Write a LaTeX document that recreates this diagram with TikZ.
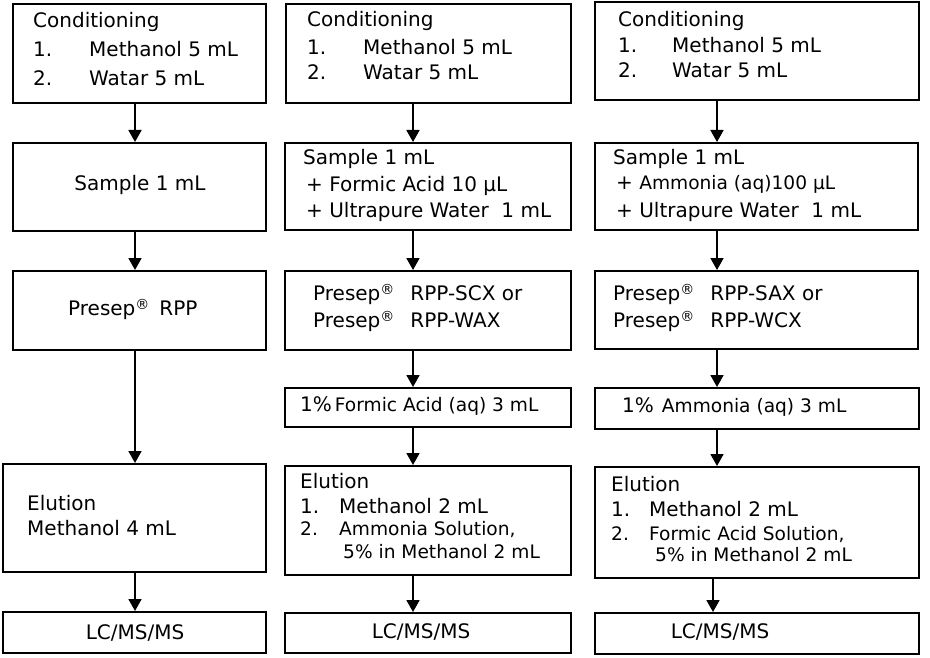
\documentclass[tikz,border=0pt]{standalone}
\usepackage{fontspec}
\setmainfont{DejaVu Sans}
\usetikzlibrary{arrows.meta}
\newcommand\smf{\fontsize{18.6}{22}\selectfont}
\newcommand\sreg{\raisebox{5.5pt}{\fontsize{14}{14}\selectfont ®}}
\tikzset{
  box/.style={draw=black, line width=1.8pt, anchor=north west, inner sep=0pt, fill=white},
  txt/.style={anchor=base west, inner sep=0pt, font=\fontsize{20}{27}\selectfont},
  ctxt/.style={anchor=base, inner sep=0pt, font=\fontsize{20}{27}\selectfont},
  arr/.style={line width=1.8pt, -{Triangle[width=13pt,length=12pt]}}
}
\begin{document}
\begin{tikzpicture}[x=1pt,y=-1pt]
\useasboundingbox (0,0) rectangle (930,658);
% ---------- column 1 ----------
\node[box, minimum width=253pt, minimum height=99pt] (b11) at (12,3) {};
\node[box, minimum width=253pt, minimum height=88pt] (b12) at (12,142) {};
\node[box, minimum width=253pt, minimum height=79pt] (b13) at (12,270) {};
\node[box, minimum width=263pt, minimum height=108pt] (b14) at (2,463) {};
\node[box, minimum width=263pt, minimum height=41pt] (b15) at (2,611) {};
\node[txt] (t11a) at (33,28) {Conditioning};
\node[txt] (t11b) at (33,57) {1.};
\node[txt] (t11c) at (89,57) {Methanol 5 mL};
\node[txt] (t11d) at (33,86) {2.};
\node[txt] (t11e) at (89,86) {Watar 5 mL};
\node[ctxt] (t12) at (140,191) {Sample 1 mL};
\node[txt] (t13) at (68,315) {Presep\sreg\hspace{10pt}RPP};
\node[txt] (t14a) at (27,510) {Elution};
\node[txt] (t14b) at (27,535) {Methanol 4 mL};
\node[ctxt] (t15) at (135,639) {LC/MS/MS};
% ---------- column 2 ----------
\node[box, minimum width=285pt, minimum height=99pt] (b21) at (285,3) {};
\node[box, minimum width=286pt, minimum height=87pt] (b22) at (284,142) {};
\node[box, minimum width=286pt, minimum height=79pt] (b23) at (284,270) {};
\node[box, minimum width=286pt, minimum height=39pt] (b24) at (284,387) {};
\node[box, minimum width=286pt, minimum height=109pt] (b25) at (284,465) {};
\node[box, minimum width=286pt, minimum height=40pt] (b26) at (284,612) {};
\node[txt] (t21a) at (307,27) {Conditioning};
\node[txt] (t21b) at (307,55) {1.};
\node[txt] (t21c) at (363,55) {Methanol 5 mL};
\node[txt] (t21d) at (307,80) {2.};
\node[txt] (t21e) at (363,80) {Watar 5 mL};
\node[txt] (t22a) at (303,165) {Sample 1 mL};
\node[txt] (t22b) at (306,192) {+ Formic Acid 10 µL};
\node[txt] (t22c) at (306,218) {+ Ultrapure Water\ \ 1 mL};
\node[txt] (t23a) at (313,300) {Presep\sreg\hspace{16pt}RPP-SCX or};
\node[txt] (t23b) at (313,327) {Presep\sreg\hspace{16pt}RPP-WAX};
\node[txt] (t24) at (300,411) {1\%\hspace{3pt}{\smf Formic Acid (aq) 3 mL}};
\node[txt] (t25a) at (300,488) {Elution};
\node[txt] (t25b) at (300,513) {1.};
\node[txt] (t25c) at (339,513) {Methanol 2 mL};
\node[txt] (t25d) at (300,535) {\smf 2.};
\node[txt] (t25e) at (339,535) {\smf Ammonia Solution,};
\node[txt] (t25f) at (343,558) {\smf 5\% in Methanol 2 mL};
\node[ctxt] (t26) at (421,638) {LC/MS/MS};
% ---------- column 3 ----------
\node[box, minimum width=324pt, minimum height=98pt] (b31) at (594,1) {};
\node[box, minimum width=323pt, minimum height=87pt] (b32) at (594,142) {};
\node[box, minimum width=323pt, minimum height=78pt] (b33) at (594,270) {};
\node[box, minimum width=324pt, minimum height=41pt] (b34) at (594,387) {};
\node[box, minimum width=324pt, minimum height=111pt] (b35) at (594,466) {};
\node[box, minimum width=324pt, minimum height=41pt] (b36) at (594,612) {};
\node[txt] (t31a) at (618,27) {Conditioning};
\node[txt] (t31b) at (618,53) {1.};
\node[txt] (t31c) at (672,53) {Methanol 5 mL};
\node[txt] (t31d) at (618,78) {2.};
\node[txt] (t31e) at (672,78) {Watar 5 mL};
\node[txt] (t32a) at (613,165) {Sample 1 mL};
\node[txt] (t32b) at (616,190) {+ {\smf Ammonia (aq)100 µL}};
\node[txt] (t32c) at (616,218) {+ Ultrapure Water\ \ 1 mL};
\node[txt] (t33a) at (613,300) {Presep\sreg\hspace{16pt}RPP-SAX or};
\node[txt] (t33b) at (613,327) {Presep\sreg\hspace{16pt}RPP-WCX};
\node[txt] (t34) at (622,412) {1\%\hspace{8pt}{\smf Ammonia (aq) 3 mL}};
\node[txt] (t35a) at (611,491) {Elution};
\node[txt] (t35b) at (611,516) {1.};
\node[txt] (t35c) at (649,516) {Methanol 2 mL};
\node[txt] (t35d) at (611,540) {\smf 2.};
\node[txt] (t35e) at (649,540) {\smf Formic Acid Solution,};
\node[txt] (t35f) at (655,561) {\smf 5\% in Methanol 2 mL};
\node[ctxt] (t36) at (720,638) {LC/MS/MS};
% ---------- arrows ----------
\coordinate (xa) at (135,0);
\coordinate (xb) at (413,0);
\coordinate (xc) at (717,0);
\coordinate (xd) at (713,0);
\draw[arr] (b11.south -| xa) -- (b12.north -| xa);
\draw[arr] (b12.south -| xa) -- (b13.north -| xa);
\draw[arr] (b13.south -| xa) -- (b14.north -| xa);
\draw[arr] (b14.south -| xa) -- (b15.north -| xa);
\draw[arr] (b21.south -| xb) -- (b22.north -| xb);
\draw[arr] (b22.south -| xb) -- (b23.north -| xb);
\draw[arr] (b23.south -| xb) -- (b24.north -| xb);
\draw[arr] (b24.south -| xb) -- (b25.north -| xb);
\draw[arr] (b25.south -| xb) -- (b26.north -| xb);
\draw[arr] (b31.south -| xc) -- (b32.north -| xc);
\draw[arr] (b32.south -| xc) -- (b33.north -| xc);
\draw[arr] (b33.south -| xc) -- (b34.north -| xc);
\draw[arr] (b34.south -| xc) -- (b35.north -| xc);
\draw[arr] (b35.south -| xd) -- (b36.north -| xd);
\end{tikzpicture}
\end{document}
